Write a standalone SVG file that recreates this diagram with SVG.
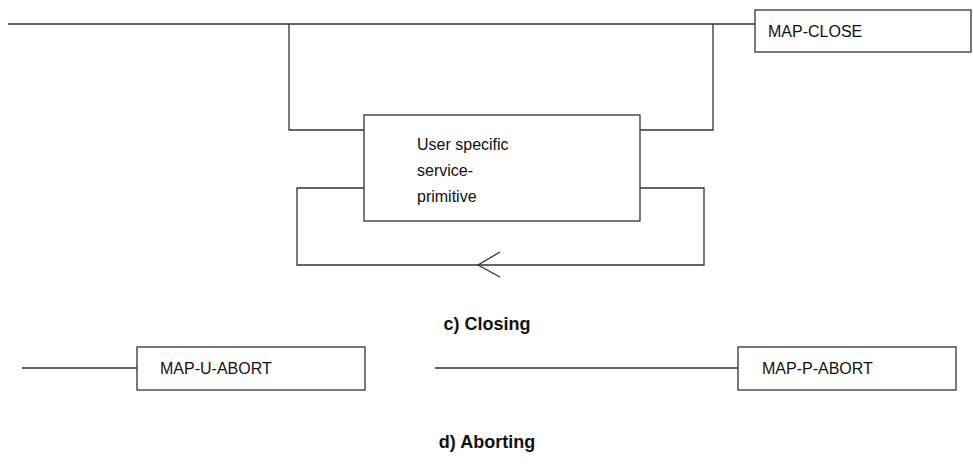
<svg xmlns="http://www.w3.org/2000/svg" width="973" height="474" viewBox="0 0 973 474">
<style>
.ln{fill:none;stroke:#333;stroke-width:1.3}
.bx{fill:#fff;stroke:#333;stroke-width:1.3}
.t{font-family:"Liberation Sans",Arial,sans-serif;font-size:16px;fill:#111}
.h{font-family:"Liberation Sans",Arial,sans-serif;font-size:18px;font-weight:bold;fill:#111;text-anchor:middle}
</style>
<rect width="973" height="474" fill="#fff"/>
<g id="connectors">
<path class="ln" d="M8,24H755"/>
<path class="ln" d="M364,130H289V24"/>
<path class="ln" d="M640,130H713V24"/>
<path class="ln" d="M364,188H297V265H704V188H640"/>
<path class="ln" d="M500,252L478,265L500,277"/>
<path class="ln" d="M22,368H137"/>
<path class="ln" d="M435,368H738"/>
</g>
<g id="map-close">
<rect class="bx" x="755" y="10" width="216" height="42"/>
<text class="t" x="768" y="37">MAP-CLOSE</text>
</g>
<g id="user-specific">
<rect class="bx" x="364" y="115" width="276" height="106"/>
<text class="t" x="417" y="150">User specific</text>
<text class="t" x="417" y="176">service-</text>
<text class="t" x="417" y="202">primitive</text>
</g>
<g id="map-u-abort">
<rect class="bx" x="137" y="347" width="228" height="43"/>
<text class="t" x="160" y="374">MAP-U-ABORT</text>
</g>
<g id="map-p-abort">
<rect class="bx" x="738" y="347" width="218" height="43"/>
<text class="t" x="762" y="374">MAP-P-ABORT</text>
</g>
<text class="h" x="487" y="330">c) Closing</text>
<text class="h" x="487" y="448">d) Aborting</text>
</svg>
